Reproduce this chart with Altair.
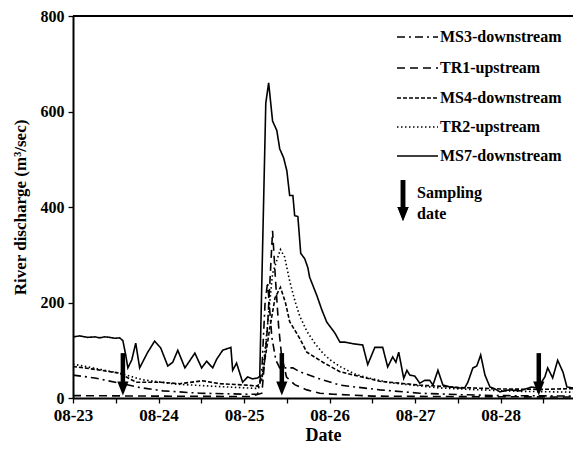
import altair as alt
import pandas as pd

# ---- data (hours since 08-23 00:00, discharge m3/sec) ----
SERIES = ["MS3-downstream", "TR1-upstream", "MS4-downstream", "TR2-upstream", "MS7-downstream"]
DASHES = [[8, 4, 2, 4], [8, 5], [4, 2], [1.5, 2.5], [1, 0]]
DAY_LABELS = ["08-23", "08-24", "08-25", "08-26", "08-27", "08-28"]

ms7_h = [0, 1.9, 4.1, 6.1, 7.5, 8.9, 10.3, 11.7, 13.1, 14.0, 14.8, 15.4, 16.5, 17.6, 18.7, 20.9, 22.9,
         24.6, 26.6, 28.0, 29.4, 31.4, 34.2, 36.1, 37.5, 39.2, 40.3, 42.0, 44.3, 44.8, 45.9, 47.6, 49.0,
         50.4, 51.8, 52.4, 54.1, 54.9, 56.0, 57.2, 58.0, 59.1, 60.0, 60.8, 61.7, 62.2, 63.1, 63.9, 65.0,
         65.9, 66.4, 68.4, 69.8, 71.2, 73.5, 74.9, 76.3, 79.1, 81.3, 82.7, 84.7, 86.9, 88.3, 89.7, 90.6,
         91.4, 92.8, 93.7, 94.5, 95.9, 97.3, 98.7, 100.1, 101.0, 102.4, 103.8, 105.8, 108.5, 109.9, 110.8,
         112.2, 113.3, 114.4, 115.6, 117.0, 118.4, 119.8, 122.5, 125.4, 128.7, 130.4, 132.4, 133.2, 134.6,
         136.0, 137.5, 138.6, 140.3, 141.7, 142.2]
ms7_v = [128, 130, 127, 128, 126, 128, 127, 125, 126, 120, 90, 63, 80, 115, 63, 95, 119,
         105, 67, 75, 100, 63, 94, 63, 77, 63, 81, 100, 106, 58, 73, 33, 44,
         40, 42, 45, 618, 660, 580, 560, 522, 503, 476, 424, 424, 382, 380, 303, 292,
         273, 253, 215, 185, 159, 136, 117, 117, 113, 111, 70, 106, 106, 65, 86, 75,
         96, 41, 58, 48, 46, 31, 37, 37, 27, 58, 27, 23, 21, 21, 33,
         63, 67, 90, 48, 23, 19, 13, 17, 15, 23, 21, 44, 63, 42,
         79, 54, 23, 21, 29, 27]

tr2_h = [0, 5.6, 13.1, 19.6, 29.1, 38.4, 48.7, 51.8, 53.0, 54.1, 56.0, 58.2, 59.4, 60.8, 62.2, 63.6,
         65.6, 67.8, 70.1, 72.1, 74.9, 79.1, 82.4, 88.9, 102.9, 114.2, 125.4, 142.2]
tr2_v = [71, 63, 52, 38, 29, 25, 21, 20, 40, 115, 261, 311, 295, 245, 205, 172,
         140, 115, 94, 80, 66, 50, 43, 32, 21, 17, 14, 12]

ms4_h = [0, 6.1, 13.1, 15.9, 17.9, 24.4, 29.9, 36.4, 41.2, 48.7, 51.8, 53.0, 55.3, 56.7, 58.2, 59.6,
         60.8, 63.6, 65.6, 70.1, 74.9, 80.5, 86.1, 97.3, 108.5, 119.8, 131.0, 142.2]
ms4_v = [66, 60, 52, 40, 33, 33, 30, 36, 30, 27, 25, 40, 150, 210, 232, 200,
         160, 125, 96, 75, 55, 45, 35, 27, 22, 19, 18, 20]

tr1_h = [0, 21.5, 49.6, 53.0, 54.6, 56.0, 56.8, 57.7, 58.5, 59.9, 62.2, 65.6, 69.3, 73.0, 84.1, 105.8, 142.2]
tr1_v = [5, 4, 3, 10, 150, 350, 250, 150, 90, 44, 28, 17, 10, 8, 4, 3, 2]

ms3_h = [0, 6.1, 13.1, 18.7, 25.2, 35.6, 48.7, 51.8, 53.0, 53.9, 54.6, 55.8, 56.9, 58.0, 61.7, 63.6,
         68.4, 74.9, 86.1, 97.3, 108.5, 119.8, 142.2]
ms3_v = [48, 42, 31, 22, 15, 10, 8, 8, 60, 200, 242, 127, 80, 63, 63, 55,
         42, 27, 17, 10, 7, 5, 4]

SAMPLING_H = [14.0, 58.6, 130.7]

# ---- build tables ----
rows = []
for name, hs, vs in [("MS3-downstream", ms3_h, ms3_v), ("TR1-upstream", tr1_h, tr1_v),
                     ("MS4-downstream", ms4_h, ms4_v), ("TR2-upstream", tr2_h, tr2_v),
                     ("MS7-downstream", ms7_h, ms7_v)]:
    for h, v in zip(hs, vs):
        rows.append({"series": name, "h": h, "v": v})
df = pd.DataFrame(rows)
arrows = pd.DataFrame({"h": SAMPLING_H, "top": [94] * 3, "bottom": [25] * 3, "head": [20] * 3})

FONT = "Liberation Serif"
W, H = 500, 382
X_DOMAIN = [0, 140.3]
labels_js = "[" + ",".join("'%s'" % s for s in DAY_LABELS) + "]"

x_enc = alt.X("h:Q", scale=alt.Scale(domain=X_DOMAIN, nice=False, zero=False),
              axis=alt.Axis(values=list(range(0, 133, 12)),
                            labelExpr="datum.value % 24 == 0 ? " + labels_js + "[datum.value/24] : ''",
                            labelFlush=False, labelOverlap=False,
                            title="Date", grid=False, tickSize=5, labelPadding=4,
                            titlePadding=3))
y_enc = alt.Y("v:Q", scale=alt.Scale(domain=[0, 800], nice=False),
              axis=alt.Axis(values=[0, 200, 400, 600, 800], title="River discharge (m³/sec)",
                            labelFlush=False,
                            grid=False, tickSize=5, labelPadding=4, titlePadding=11))

lines = alt.Chart(df).mark_line(color="black", strokeWidth=1.6, clip=True).encode(
    x=x_enc, y=y_enc,
    strokeDash=alt.StrokeDash("series:N", scale=alt.Scale(domain=SERIES, range=DASHES), legend=None),
    detail="series:N",
    order="h:Q",
)

shafts = alt.Chart(arrows).mark_rule(color="black", strokeWidth=4.5).encode(
    x="h:Q", y="top:Q", y2="bottom:Q")
HEAD = "M-0.8,-1L0.8,-1L0,1Z"
heads = alt.Chart(arrows).mark_point(shape=HEAD, filled=True, size=196, color="black", opacity=1).encode(
    x="h:Q", y="head:Q")

top_rule = alt.Chart(arrows).mark_rule(color="black", strokeWidth=1.8).encode(
    x=alt.value(0), x2=alt.value(W), y=alt.value(0))

# ---- legend (drawn) ----
leg_layers = []
LEG_Y = [21, 52, 82, 111, 140]
for name, dash, yy in zip(SERIES, DASHES, LEG_Y):
    one = pd.DataFrame({"series": [name]})
    leg_layers.append(alt.Chart(one).mark_rule(color="black", strokeWidth=1.6, strokeDash=dash).encode(
        x=alt.value(324), x2=alt.value(365), y=alt.value(yy)))
    leg_layers.append(alt.Chart(one).mark_text(font=FONT, fontWeight="bold", fontSize=16, align="left",
                                               baseline="middle", color="black").encode(
        x=alt.value(367), y=alt.value(yy), text="series:N"))

sd = pd.DataFrame({"t": ["Sampling", "date"], "yy": [177, 198]})
leg_layers.append(alt.Chart(sd).mark_rule(color="black", strokeWidth=4.5).encode(
    x=alt.value(330), y=alt.value(164), y2=alt.value(194)))
leg_layers.append(alt.Chart(sd).mark_point(shape=HEAD, filled=True, size=196, color="black", opacity=1).encode(
    x=alt.value(330), y=alt.value(198)))
for t, yy in zip(sd["t"], sd["yy"]):
    leg_layers.append(alt.Chart(pd.DataFrame({"t": [t]})).mark_text(
        font=FONT, fontWeight="bold", fontSize=16, align="left", baseline="middle", color="black").encode(
        x=alt.value(344), y=alt.value(yy), text="t:N"))

chart = alt.layer(lines, shafts, heads, top_rule, *leg_layers).properties(
    width=W, height=H,
    autosize=alt.AutoSizeParams(type="none"),
    padding={"left": 65, "top": 8, "right": 0, "bottom": 50},
).configure_view(stroke=None).configure_axis(
    labelFont=FONT, labelFontWeight="bold", labelFontSize=17, labelColor="black",
    titleFont=FONT, titleFontWeight="bold", titleColor="black",
    domainColor="black", domainWidth=2, tickColor="black", tickWidth=1.3,
).configure_axisX(titleFontSize=18).configure_axisY(titleFontSize=17, labelFontSize=16)

chart.save("out.html", embed_options={"renderer": "svg", "actions": False})
